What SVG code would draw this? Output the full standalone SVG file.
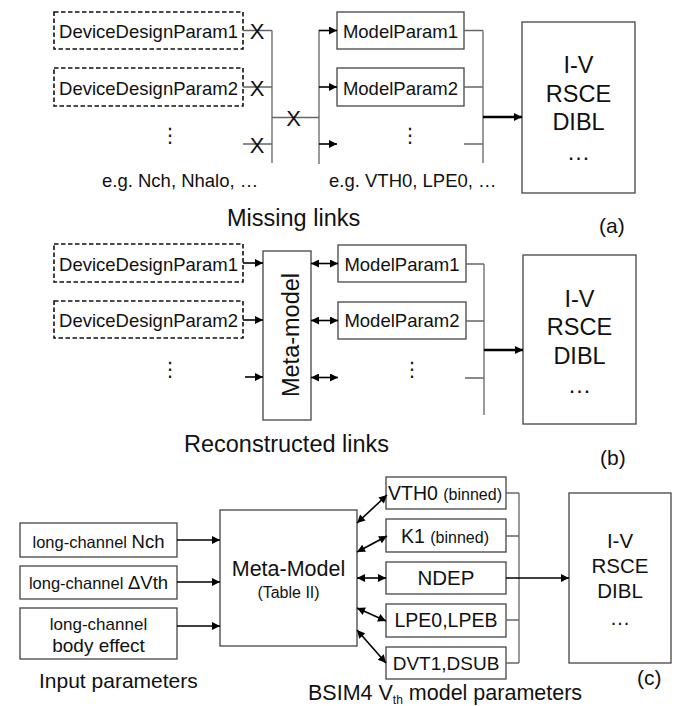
<svg xmlns="http://www.w3.org/2000/svg" width="679" height="706" viewBox="0 0 679 706">
<defs>
<marker id="ah" viewBox="0 0 10 10" refX="10" refY="5" markerWidth="10" markerHeight="8" markerUnits="userSpaceOnUse" orient="auto-start-reverse">
<path d="M0,0 L10,5 L0,10 z" fill="#000"/>
</marker>
<style>
text{font-family:"Liberation Sans",Arial,sans-serif;fill:#111}
.box{fill:#fff;stroke:#444;stroke-width:1.3}
.dash{fill:#fff;stroke:#111;stroke-width:1.6;stroke-dasharray:4.5,2.5}
.ln{stroke:#666;stroke-width:1.3;fill:none}
.arr{stroke:#000;stroke-width:1.6;fill:none;marker-end:url(#ah)}
.thick{stroke:#000;stroke-width:2.6;fill:none;marker-end:url(#ah)}
.dbl{stroke:#000;stroke-width:1.6;fill:none;marker-start:url(#ah);marker-end:url(#ah)}
.f18{font-size:18.5px}
.f23{font-size:23.5px}
.f21{font-size:21px}
.mid{text-anchor:middle}
.xm{font-size:22px;text-anchor:middle}
.dots{font-family:"DejaVu Sans",sans-serif;font-size:20px;text-anchor:middle}
</style>
</defs>

<!-- ===== Panel (a) ===== -->
<g id="a-ddp1"><rect class="dash" x="54" y="12" width="189" height="37"/><text class="f18 mid" x="148.5" y="37.5">DeviceDesignParam1</text></g>
<g id="a-ddp2"><rect class="dash" x="54" y="68" width="189" height="38"/><text class="f18 mid" x="148.5" y="94.5">DeviceDesignParam2</text></g>
<g id="a-mp1"><rect class="box" x="337" y="12" width="127" height="37"/><text class="f18 mid" x="400.5" y="37.5">ModelParam1</text></g>
<g id="a-mp2"><rect class="box" x="337" y="68" width="127" height="38"/><text class="f18 mid" x="400.5" y="94.5">ModelParam2</text></g>
<g id="a-iv"><rect class="box" x="522" y="22" width="113" height="171"/>
<text class="f23 mid" x="578.5" y="73">I-V</text>
<text class="f23 mid" x="578.5" y="101.5">RSCE</text>
<text class="f23 mid" x="578.5" y="130">DIBL</text>
<text class="f23 mid" x="578.5" y="160">…</text></g>

<g id="a-connectors">
<path class="ln" d="M243,30.5 H272 M243,87 H272 M243,144 H272 M272,30.5 V163 M272,117.5 H319 M319,30 V164"/>
<path class="arr" d="M319,30.5 H337"/>
<path class="arr" d="M319,87 H337"/>
<path class="arr" d="M319,144 H337"/>
<path class="ln" d="M464,30.5 H483 M464,87 H483 M464,144 H483 M483,30.5 V163"/>
<path class="thick" d="M483,117 H522"/>
</g>
<g id="a-labels">
<text class="xm" x="257" y="39">X</text>
<text class="xm" x="257" y="95.5">X</text>
<text class="xm" x="257" y="152.5">X</text>
<text class="xm" x="293.5" y="126">X</text>
<text class="dots" x="170" y="142">⋮</text>
<text class="dots" x="410" y="142">⋮</text>
<text class="f18" x="102" y="187">e.g. Nch, Nhalo, …</text>
<text class="f18" x="329" y="187">e.g. VTH0, LPE0, …</text>
<text class="f23" x="227" y="226">Missing links</text>
<text class="f21" x="599" y="233">(a)</text>
</g>

<!-- ===== Panel (b) ===== -->
<g id="b-ddp1"><rect class="dash" x="54" y="244" width="189" height="38"/><text class="f18 mid" x="148.5" y="271">DeviceDesignParam1</text></g>
<g id="b-ddp2"><rect class="dash" x="54" y="301" width="189" height="37"/><text class="f18 mid" x="148.5" y="327">DeviceDesignParam2</text></g>
<g id="b-meta"><rect class="box" x="263" y="251" width="48" height="169"/><text class="f23 mid" transform="translate(298.5,335) rotate(-90)">Meta-model</text></g>
<g id="b-mp1"><rect class="box" x="338" y="245" width="128" height="37"/><text class="f18 mid" x="402" y="271">ModelParam1</text></g>
<g id="b-mp2"><rect class="box" x="338" y="302" width="128" height="37"/><text class="f18 mid" x="402" y="327">ModelParam2</text></g>
<g id="b-iv"><rect class="box" x="523" y="255" width="113" height="169"/>
<text class="f23 mid" x="579.5" y="306.5">I-V</text>
<text class="f23 mid" x="579.5" y="335">RSCE</text>
<text class="f23 mid" x="579.5" y="363.5">DIBL</text>
<text class="f23 mid" x="579.5" y="393">…</text></g>

<g id="b-connectors">
<path class="arr" d="M243,263 H263"/>
<path class="arr" d="M243,320 H263"/>
<path class="arr" d="M245,377 H263"/>
<path class="dbl" d="M311,263.5 H338"/>
<path class="dbl" d="M311,320.5 H338"/>
<path class="dbl" d="M311,377.5 H338"/>
<path class="ln" d="M466,264 H484 M466,321 H484 M465,378 H484 M484,264 V415"/>
<path class="thick" d="M484,350 H523"/>
</g>
<g id="b-labels">
<text class="dots" x="170" y="376">⋮</text>
<text class="dots" x="412" y="376">⋮</text>
<text class="f23" x="184" y="452">Reconstructed links</text>
<text class="f21" x="600" y="465">(b)</text>
</g>

<!-- ===== Panel (c) ===== -->
<g id="c-in1"><rect class="box" x="20" y="523" width="157" height="34"/><text class="mid" x="98.5" y="548"><tspan style="font-size:16.5px">long-channel </tspan><tspan style="font-size:18.5px">Nch</tspan></text></g>
<g id="c-in2"><rect class="box" x="20" y="566" width="157" height="33"/><text class="mid" x="98.5" y="589"><tspan style="font-size:16.5px">long-channel </tspan><tspan style="font-size:18.5px">ΔVth</tspan></text></g>
<g id="c-in3"><rect class="box" x="20" y="608" width="157" height="51"/><text class="mid" x="98.5" y="630" style="font-size:17px">long-channel</text><text class="mid" x="98.5" y="652" style="font-size:19px">body effect</text></g>
<g id="c-meta"><rect class="box" x="220" y="510" width="137" height="136"/><text class="mid" x="288.5" y="576" style="font-size:21.5px">Meta-Model</text><text class="mid" x="288.5" y="598" style="font-size:16px">(Table II)</text></g>
<g id="c-vth0"><rect class="box" x="386" y="477" width="120" height="32"/><text class="mid" x="445" y="500"><tspan style="font-size:19.5px">VTH0 </tspan><tspan style="font-size:16px">(binned)</tspan></text></g>
<g id="c-k1"><rect class="box" x="386" y="519" width="120" height="33"/><text class="mid" x="445" y="543"><tspan style="font-size:19.5px">K1 </tspan><tspan style="font-size:16px">(binned)</tspan></text></g>
<g id="c-ndep"><rect class="box" x="386" y="562" width="120" height="32"/><text class="mid" x="446" y="585" style="font-size:20.5px">NDEP</text></g>
<g id="c-lpe"><rect class="box" x="386" y="604" width="120" height="33"/><text class="mid" x="446" y="627" style="font-size:19.5px">LPE0,LPEB</text></g>
<g id="c-dvt"><rect class="box" x="386" y="647" width="120" height="32"/><text class="mid" x="446" y="670" style="font-size:19px">DVT1,DSUB</text></g>
<g id="c-iv"><rect class="box" x="569" y="493" width="102" height="170"/>
<text class="mid" x="620" y="548" style="font-size:20.5px">I-V</text>
<text class="mid" x="620" y="573" style="font-size:20.5px">RSCE</text>
<text class="mid" x="620" y="598" style="font-size:20.5px">DIBL</text>
<text class="mid" x="620" y="625" style="font-size:20.5px">…</text></g>

<g id="c-connectors">
<path class="arr" d="M177,540 H220"/>
<path class="arr" d="M177,582 H220"/>
<path class="arr" d="M177,626 H220"/>
<path class="dbl" d="M357,523 L387,495"/>
<path class="dbl" d="M357,552 L387,536"/>
<path class="dbl" d="M357,578 H386"/>
<path class="dbl" d="M357,608 L386,621"/>
<path class="dbl" d="M357,630 L386,663"/>
<path class="ln" d="M506,493 H519 M506,536 H519 M506,620 H519 M506,663 H519 M519,493 V663"/>
<path class="arr" d="M506,578 H569"/>
</g>
<g id="c-labels">
<text class="f21" x="39" y="688">Input parameters</text>
<text x="308" y="700" style="font-size:21.5px">BSIM4 V<tspan style="font-size:12px" dy="4">th</tspan><tspan dy="-4"> model parameters</tspan></text>
<text class="f21" x="637" y="685">(c)</text>
</g>
</svg>
